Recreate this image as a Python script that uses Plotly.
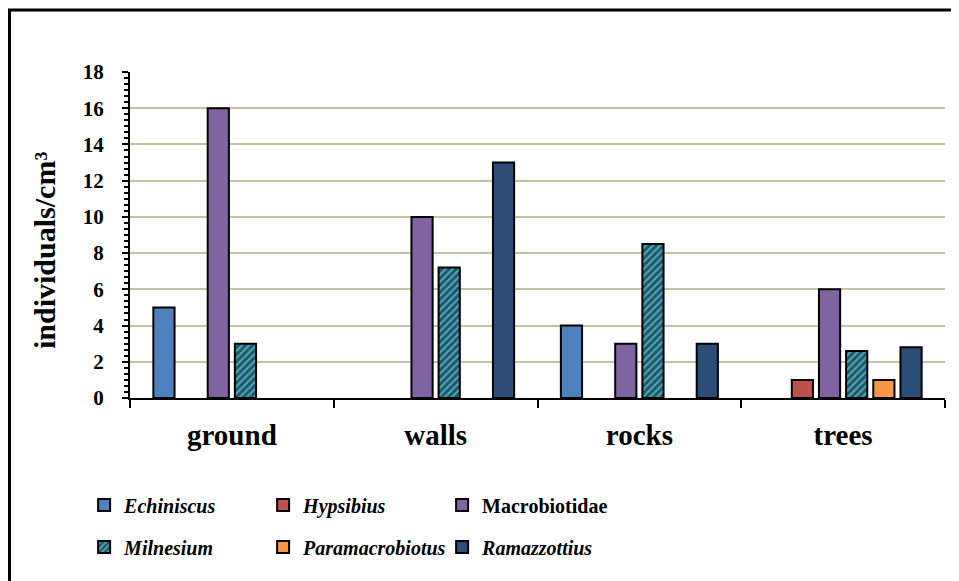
import plotly.graph_objects as go

categories = ["ground", "walls", "rocks", "trees"]
series_names = ["Echiniscus", "Hypsibius", "Macrobiotidae", "Milnesium", "Paramacrobiotus", "Ramazzottius"]
italic_flags = [True, True, False, True, True, True]
echiniscus = [5, 0, 4, 0]
hypsibius = [0, 0, 0, 1]
macrobiotidae = [16, 10, 3, 6]
milnesium = [3, 7.2, 8.5, 2.6]
paramacrobiotus = [0, 0, 0, 1]
ramazzottius = [0, 13, 3, 2.8]
series_values = [echiniscus, hypsibius, macrobiotidae, milnesium, paramacrobiotus, ramazzottius]
colors = ["#4f81bd", "#c0504d", "#8064a2", "#4bacc6", "#f79646", "#2c4d75"]
y_ticks = [0, 2, 4, 6, 8, 10, 12, 14, 16, 18]

FONT = "Liberation Serif"


def legend_label(name, italic):
    return f"<i>{name}</i>" if italic else name


fig = go.Figure()
for i, (name, ital, vals, col) in enumerate(zip(series_names, italic_flags, series_values, colors)):
    marker = dict(color=col, line=dict(color="black", width=2))
    if name == "Milnesium":
        marker["pattern"] = dict(shape="/", fillmode="overlay", fgcolor="#000000",
                                 size=5, solidity=0.6)
    yv = [v if v > 0 else None for v in vals]
    fig.add_trace(go.Bar(x=categories, y=yv, name=legend_label(name, ital), marker=marker,
                         legend="legend" if i < 3 else "legend2"))

legend_common = dict(orientation="h", xanchor="left", yanchor="middle",
                     entrywidth=134, entrywidthmode="pixels", itemwidth=30,
                     font=dict(family=FONT, size=20, color="black", weight="bold"),
                     traceorder="normal", bgcolor="rgba(0,0,0,0)")

fig.update_layout(
    width=951, height=573,
    paper_bgcolor="white", plot_bgcolor="white",
    margin=dict(l=122, r=14, t=64, b=183),
    barmode="group", bargap=0.2, bargroupgap=0.22,
    font=dict(family=FONT, color="black"),
    legend=dict(x=-0.0563, y=(398 - 505) / 326, **legend_common),
    legend2=dict(x=-0.0563, y=(398 - 547) / 326, **legend_common),
    showlegend=True,
)
fig.update_xaxes(
    showline=True, linecolor="black", linewidth=2,
    ticks="outside", tickson="boundaries", ticklen=8, tickwidth=2, tickcolor="black",
    tickfont=dict(family=FONT, size=29, color="black", weight="bold"),
    ticklabelstandoff=10,
    showgrid=False,
)
fig.update_yaxes(
    range=[0, 18], tickvals=y_ticks,
    showline=True, linecolor="black", linewidth=2,
    ticks="outside", ticklen=6, tickwidth=2, tickcolor="black",
    minor=dict(ticks="outside", dtick=1/3, ticklen=4, tickwidth=1.5, tickcolor="black", showgrid=False),
    tickfont=dict(family=FONT, size=21, color="black", weight="bold"),
    ticklabelstandoff=14,
    showgrid=True, gridcolor="#c9c09e", gridwidth=2,
    zeroline=False,
)
fig.add_annotation(text="individuals/cm³", xref="paper", yref="paper",
                   x=(45 - 130) / 815, y=(398 - 251) / 326, textangle=-90,
                   showarrow=False, xanchor="center", yanchor="middle",
                   font=dict(family=FONT, size=30, color="black", weight="bold"))
fig.add_shape(type="rect", xref="paper", yref="paper",
              x0=(1.5 - 122) / 815, x1=(948 - 122) / 815, y0=-0.6, y1=(390 - 2) / 326,
              line=dict(color="black", width=3), fillcolor="rgba(0,0,0,0)", layer="below")

fig.write_html("out.html")
